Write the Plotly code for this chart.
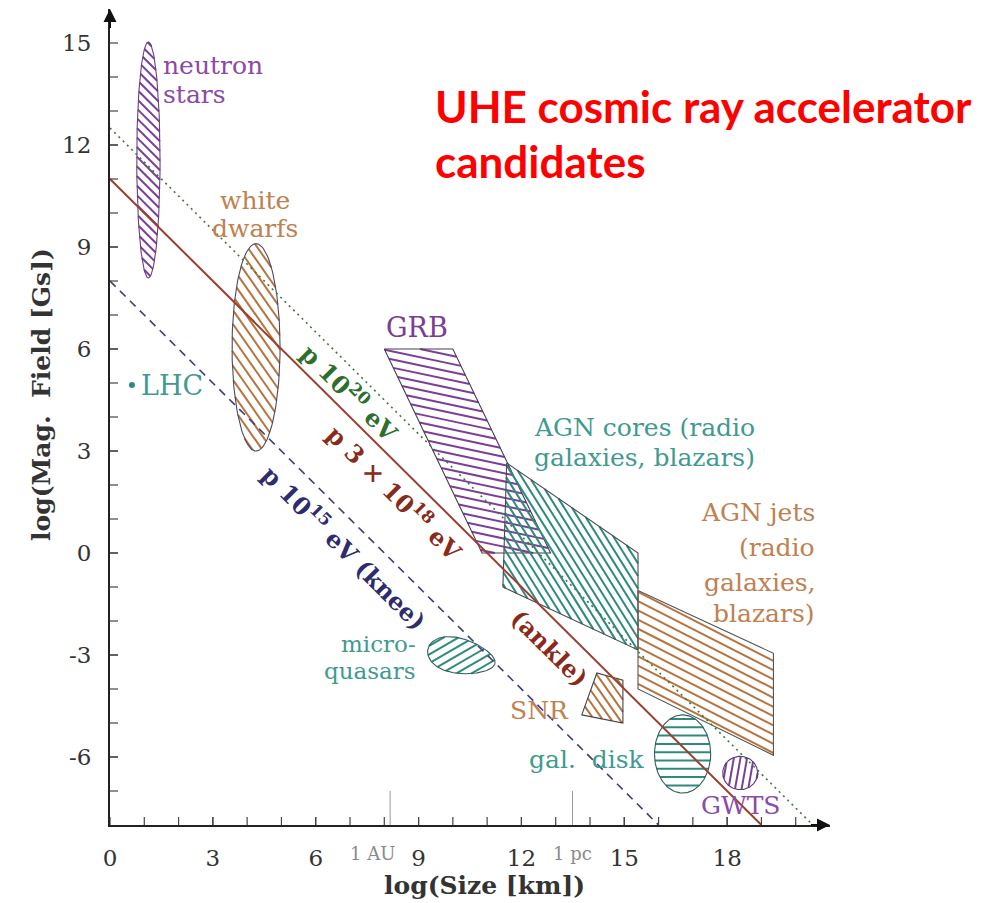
import numpy as np
import plotly.graph_objects as go

# ---- Hillas condition lines: log B = intercept - log R ----
HILLAS_INTERCEPTS = [12.5, 11.0, 8.0]
HILLAS_NAMES = ["p 1e20 eV", "p 3e18 eV", "p 1e15 eV"]
HILLAS_COLORS = ["#3d7a3d", "#9a3f2e", "#3d3d80"]
HILLAS_DASH = ["2px,4px", "solid", "8px,6px"]
X_MIN, X_MAX = 0.0, 21.0
Y_MIN, Y_MAX = -8.0, 16.0

# ---- source classes, polygon outlines (log R [km], log B [G]) ----
GRB_X = [8.0, 10.0, 12.85, 10.85]
GRB_Y = [6.0, 6.0, 0.0, 0.0]
AGN_CORES_X = [11.57, 15.4, 15.4, 11.46]
AGN_CORES_Y = [2.65, 0.0, -2.85, -1.0]
AGN_JETS_X = [15.4, 19.35, 19.35, 15.4]
AGN_JETS_Y = [-1.1, -2.95, -5.95, -4.0]
SNR_X = [13.76, 14.2, 14.96, 14.96]
SNR_Y = [-4.76, -3.53, -3.74, -5.0]

# ---- source classes, elliptical regions: centre x, centre y, half-width, half-height ----
NEUTRON_STARS = [1.12, 11.56, 0.34, 3.47]
WHITE_DWARFS = [4.26, 6.05, 0.7, 3.05]
MICROQUASARS = [10.25, -3.04, 1.0, 0.51]
GAL_DISK = [16.7, -5.91, 0.82, 1.15]
GWTS = [18.38, -6.47, 0.51, 0.49]
LHC = [0.64, 4.94]

# ---- axis ticks ----
X_MAJOR = [0, 3, 6, 9, 12, 15, 18]
X_MINOR = list(range(1, 21))
Y_MAJOR = [-6, -3, 0, 3, 6, 9, 12, 15]
Y_MINOR = list(range(-7, 15))
SCALE_NAMES = ["1 AU", "1 pc"]
SCALE_VALUES = [8.17, 13.49]

PURPLE = "#7b3f98"
BROWN = "#b8743f"
TEAL = "#2e8a80"
PURPLE_TXT = "#8a4aa8"
BROWN_TXT = "#c0804f"
TEAL_TXT = "#3f9a90"
SERIF = "DejaVu Serif"

# plot geometry (pixels per data unit) so hatch angles look right on screen
W, H = 990, 903
ML, MR, MT, MB = 110, 160, 9, 78
SX = (W - ML - MR) / (X_MAX - X_MIN)
SY = (H - MT - MB) / (Y_MAX - Y_MIN)


def ellipse(params, n=160, rot=0.0, egg=0.0):
    cx, cy, a, b = params
    t = np.linspace(0, 2 * np.pi, n)
    u = a * SX * np.cos(t)
    v = b * SY * np.sin(t) * (1 - egg * np.cos(t))
    r = np.radians(rot)
    pu = u * np.cos(r) - v * np.sin(r)
    pv = u * np.sin(r) + v * np.cos(r)
    return cx + pu / SX, cy + pv / SY


def hatch(xs, ys, angle, spacing):
    """Parallel hatch segments clipped to a closed polygon (screen-space angle/spacing)."""
    px = np.append(np.asarray(xs, float), xs[0]) * SX
    py = np.append(np.asarray(ys, float), ys[0]) * SY
    th = np.radians(angle)
    d = np.array([np.cos(th), np.sin(th)])
    nv = np.array([-np.sin(th), np.cos(th)])
    pts = np.column_stack([px, py])
    pn = pts @ nv
    start = np.ceil(pn.min() / spacing) * spacing
    hx, hy = [], []
    for c in np.arange(start, pn.max(), spacing):
        svals = []
        for i in range(len(pts) - 1):
            a_, b_ = pn[i] - c, pn[i + 1] - c
            if (a_ > 0) != (b_ > 0):
                t = a_ / (a_ - b_)
                p = pts[i] + t * (pts[i + 1] - pts[i])
                svals.append(p @ d)
        svals.sort()
        for k in range(0, len(svals) - 1, 2):
            for s in (svals[k], svals[k + 1]):
                q = c * nv + s * d
                hx.append(q[0] / SX)
                hy.append(q[1] / SY)
            hx.append(None)
            hy.append(None)
    return hx, hy


fig = go.Figure()


def add_region(xs, ys, color, edge, angle, spacing, width=2.0):
    hx, hy = hatch(xs, ys, angle, spacing)
    fig.add_trace(go.Scatter(x=hx, y=hy, mode="lines", line=dict(color=color, width=width),
                             hoverinfo="skip", showlegend=False))
    fig.add_trace(go.Scatter(x=list(xs) + [xs[0]], y=list(ys) + [ys[0]], mode="lines",
                             line=dict(color=edge, width=1.1), hoverinfo="skip", showlegend=False))


ns_x, ns_y = ellipse(NEUTRON_STARS)
wd_x, wd_y = ellipse(WHITE_DWARFS)
mq_x, mq_y = ellipse(MICROQUASARS, rot=-12, egg=0.2)
gd_x, gd_y = ellipse(GAL_DISK)
gw_x, gw_y = ellipse(GWTS)

add_region(ns_x, ns_y, PURPLE, "#6a3f80", -45, 6.8)
add_region(wd_x, wd_y, BROWN, "#4a4a66", -55, 8.0)
add_region(GRB_X, GRB_Y, PURPLE, "#4a3a55", -12, 8.0)
add_region(AGN_CORES_X, AGN_CORES_Y, TEAL, "#4a4a4a", -58, 6.6)
add_region(AGN_JETS_X, AGN_JETS_Y, BROWN, "#555555", -27, 8.2)
add_region(mq_x, mq_y, TEAL, "#2f5f5a", 30, 7.5)
add_region(SNR_X, SNR_Y, BROWN, "#444444", -55, 7.0)
add_region(gd_x, gd_y, TEAL, "#2f5f5a", 0, 8.3)
add_region(gw_x, gw_y, PURPLE, "#5a3a70", 80, 6.5)

# Hillas lines
for b0, name, col, dash in zip(HILLAS_INTERCEPTS, HILLAS_NAMES, HILLAS_COLORS, HILLAS_DASH):
    xe = b0 - Y_MIN
    fig.add_trace(go.Scatter(x=[0, xe], y=[b0, Y_MIN], mode="lines", name=name,
                             line=dict(color=col, width=1.6 if dash != "solid" else 2, dash=dash),
                             hoverinfo="skip", showlegend=False))

# LHC point
fig.add_trace(go.Scatter(x=[LHC[0]], y=[LHC[1]], mode="markers",
                         marker=dict(color=TEAL, size=6), hoverinfo="skip", showlegend=False))

ann = []


def label(x, y, text, color, size=25, xanchor="center", angle=0, bold=False):
    ann.append(dict(x=x, y=y, xref="x", yref="y", text=f"<b>{text}</b>" if bold else text,
                    showarrow=False, xanchor=xanchor, yanchor="middle", borderpad=0,
                    textangle=angle, font=dict(family=SERIF, size=size, color=color)))


def lines_label(x, ys, texts, color, size=25, xanchor="center"):
    for yv, t in zip(ys, texts):
        label(x, yv, t, color, size=size, xanchor=xanchor)


lines_label(1.52, [14.35, 13.5], ["neutron", "stars"], PURPLE_TXT, xanchor="left")
lines_label(4.23, [10.38, 9.53], ["white", "dwarfs"], BROWN_TXT)
label(0.87, 4.94, "LHC", TEAL_TXT, size=27, xanchor="left")
label(8.95, 6.62, "GRB", "#7a3d96", size=27)
lines_label(15.6, [3.68, 2.8], ["AGN cores (radio", "galaxies, blazars)"], TEAL_TXT)
lines_label(20.6, [1.18, 0.16, -0.86, -1.78], ["AGN jets", "(radio", "galaxies,", "blazars)"],
            BROWN_TXT, xanchor="right")
lines_label(8.94, [-2.68, -3.47], ["micro-", "quasars"], TEAL_TXT, size=23, xanchor="right")
label(13.41, -4.62, "SNR", BROWN_TXT, xanchor="right")
label(15.64, -6.06, "gal.  disk", TEAL_TXT, xanchor="right")
label(18.4, -7.44, "GWTS", PURPLE_TXT)

# rotated labels along the Hillas lines
label(7.0, 4.74, "p 10<sup>20</sup> eV", "#2e6e2e", size=24, angle=45, bold=True)
label(8.31, 1.79, "p 3 × 10<sup>18</sup> eV", "#8a2a1a", size=24, angle=45, bold=True)
label(6.85, 0.18, "p 10<sup>15</sup> eV (knee)", "#2c2c6e", size=24, angle=45, bold=True)
label(12.83, -2.81, "(ankle)", "#8a2a1a", size=24, angle=45, bold=True)

# scale marks under the x axis
for nm, xv in zip(SCALE_NAMES, SCALE_VALUES):
    ann.append(dict(x=xv - (0.5 if nm == "1 AU" else 0.0), y=Y_MIN, xref="x", yref="y", text=nm,
                    showarrow=False, yanchor="top", yshift=-16,
                    font=dict(family=SERIF, size=18, color="#8a8a8a")))

# axis titles
ann.append(dict(x=10.93, y=(H - MB - 885) / (H - MT - MB), xref="x", yref="paper",
                text="<b>log(Size [km])</b>", showarrow=False, yanchor="middle",
                font=dict(family=SERIF, size=25, color="#333")))
ann.append(dict(x=(42 - ML) / (W - ML - MR), y=4.65, xref="paper", yref="y",
                text="<b>log(Mag.  Field [Gs])</b>", showarrow=False, textangle=-90,
                xanchor="center", font=dict(family=SERIF, size=25, color="#333")))

# axis arrowheads
ann.append(dict(x=X_MAX, y=Y_MIN, ax=X_MAX - 0.6, ay=Y_MIN, xref="x", yref="y", axref="x", ayref="y",
                text="", showarrow=True, arrowhead=2, arrowsize=1.3, arrowwidth=2, arrowcolor="#111",
                standoff=0, startstandoff=0))
ann.append(dict(x=0, y=Y_MAX, ax=0, ay=Y_MAX - 0.6, xref="x", yref="y", axref="x", ayref="y",
                text="", showarrow=True, arrowhead=2, arrowsize=1.3, arrowwidth=2, arrowcolor="#111",
                standoff=0, startstandoff=0))

# title (positions in pixels, converted to paper coordinates)
for txt, py in [("UHE cosmic ray accelerator", 106), ("candidates", 161)]:
    ann.append(dict(x=(433 - ML) / (W - ML - MR), y=(H - MB - py) / (H - MT - MB),
                    xref="paper", yref="paper", text=f"<b>{txt}</b>",
                    showarrow=False, xanchor="left", yanchor="middle",
                    font=dict(family="Lato", size=44, color="#ff0000")))

# tick marks drawn as pixel-sized shapes
shapes = []
tick_col = "#444"
for xv in X_MINOR:
    shapes.append(dict(type="line", xref="x", yref="y", ysizemode="pixel", yanchor=Y_MIN,
                       x0=xv, x1=xv, y0=0, y1=8, line=dict(color=tick_col, width=1.2)))
for xv in X_MAJOR:
    shapes.append(dict(type="line", xref="x", yref="y", ysizemode="pixel", yanchor=Y_MIN,
                       x0=xv, x1=xv, y0=-7, y1=8, line=dict(color=tick_col, width=1.2)))
for yv in Y_MINOR:
    shapes.append(dict(type="line", xref="x", yref="y", xsizemode="pixel", xanchor=0,
                       y0=yv, y1=yv, x0=0, x1=8, line=dict(color=tick_col, width=1.2)))
for yv in Y_MAJOR:
    shapes.append(dict(type="line", xref="x", yref="y", xsizemode="pixel", xanchor=0,
                       y0=yv, y1=yv, x0=-7, x1=8, line=dict(color=tick_col, width=1.2)))
for xv in SCALE_VALUES:
    shapes.append(dict(type="line", xref="x", yref="y", ysizemode="pixel", yanchor=Y_MIN,
                       x0=xv, x1=xv, y0=-4, y1=34, line=dict(color="#999", width=1)))

fig.update_layout(
    width=W, height=H,
    margin=dict(l=ML, r=MR, t=MT, b=MB),
    plot_bgcolor="white", paper_bgcolor="white",
    annotations=ann, shapes=shapes,
    xaxis=dict(range=[X_MIN, X_MAX], showgrid=False, zeroline=False, showline=True,
               linecolor="#222", linewidth=2, tickvals=X_MAJOR, ticktext=[str(v) for v in X_MAJOR],
               ticks="", ticklabelstandoff=11,
               tickfont=dict(family=SERIF, size=23, color="#333")),
    yaxis=dict(range=[Y_MIN, Y_MAX], showgrid=False, zeroline=False, showline=True,
               linecolor="#222", linewidth=2, tickvals=Y_MAJOR, ticktext=[str(v) for v in Y_MAJOR],
               ticks="", ticklabelstandoff=12,
               tickfont=dict(family=SERIF, size=23, color="#333")),
)

fig.write_html("out.html")
